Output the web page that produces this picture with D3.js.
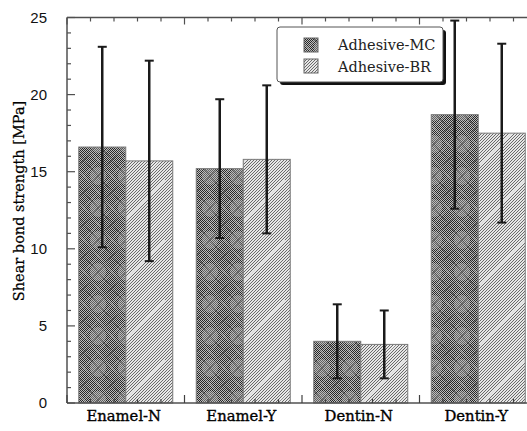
<!DOCTYPE html>
<html><head><meta charset="utf-8">
<script src="https://cdn.jsdelivr.net/npm/d3@7"></script>
<style>html,body{margin:0;padding:0;background:#fff;overflow:hidden}</style>
</head><body>
<svg id="chart" width="527" height="431"></svg>
<script>
const categories = ["Enamel-N", "Enamel-Y", "Dentin-N", "Dentin-Y"];
const series = ["Adhesive-MC", "Adhesive-BR"];
const meanMC = [16.6, 15.2, 4.0, 18.7];
const meanBR = [15.7, 15.8, 3.8, 17.5];
const lowMC  = [10.1, 10.7, 1.6, 12.6];
const highMC = [23.1, 19.7, 6.4, 24.8];
const lowBR  = [9.2, 11.0, 1.6, 11.7];
const highBR = [22.2, 20.6, 6.0, 23.3];
const yTicks = [0, 5, 10, 15, 20, 25];

const rows = [];
categories.forEach((c, i) => {
  rows.push({cat: c, s: series[0], v: meanMC[i], lo: lowMC[i], hi: highMC[i]});
  rows.push({cat: c, s: series[1], v: meanBR[i], lo: lowBR[i], hi: highBR[i]});
});

const svg = d3.select("#chart");
const L = 67, T = 17.5, B = 403, R = 537;

const x0 = d3.scaleBand().domain(categories).range([L, R]).paddingInner(0).paddingOuter(0);
const x1 = d3.scaleBand().domain(series).range([0, x0.bandwidth()]).paddingInner(0).paddingOuter(0.25);
const y = d3.scaleLinear().domain([0, 25]).range([B, T]);

// patterns
const defs = svg.append("defs");
const ck = defs.append("pattern").attr("id", "checker").attr("patternUnits", "userSpaceOnUse")
  .attr("width", 2).attr("height", 2);
ck.append("rect").attr("width", 2).attr("height", 2).attr("fill", "#bcbcbc");
ck.append("rect").attr("width", 1).attr("height", 1).attr("fill", "#262626");
ck.append("rect").attr("x", 1).attr("y", 1).attr("width", 1).attr("height", 1).attr("fill", "#262626");

const mc = defs.append("pattern").attr("id", "mc").attr("patternUnits", "userSpaceOnUse")
  .attr("width", 28).attr("height", 32).attr("x", 0).attr("y", 0);
mc.append("rect").attr("width", 28).attr("height", 32).attr("fill", "url(#checker)");
mc.append("ellipse").attr("cx", 14).attr("cy", 16).attr("rx", 8).attr("ry", 9)
  .attr("fill", "#b8b8b8").attr("opacity", 0.4);
mc.append("path").attr("d", "M0,0 L28,32 M28,0 L0,32")
  .attr("stroke", "#444").attr("stroke-width", 0.9).attr("opacity", 0.7);
mc.append("path").attr("d", "M0,16 L14,0 M14,32 L28,16 M0,16 L14,32 M14,0 L28,16")
  .attr("stroke", "#d0d0d0").attr("stroke-width", 0.8).attr("opacity", 0.45);

const br = defs.append("pattern").attr("id", "br").attr("patternUnits", "userSpaceOnUse")
  .attr("width", 3).attr("height", 3);
br.append("rect").attr("width", 3).attr("height", 3).attr("fill", "#e6e6e6");
br.append("path").attr("d", "M-1,1 L1,-1 M0,3 L3,0 M2,4 L4,2")
  .attr("stroke", "#6a6a6a").attr("stroke-width", 1);

const brOver = defs.append("pattern").attr("id", "brOver").attr("patternUnits", "userSpaceOnUse")
  .attr("width", 60).attr("height", 60);
brOver.append("rect").attr("width", 60).attr("height", 60).attr("fill", "url(#br)");
brOver.append("path").attr("d", "M0,45 L45,0 M20,60 L60,20")
  .attr("stroke", "#f4f4f4").attr("stroke-width", 1.2).attr("opacity", 0.8);

const fillFor = s => s === series[0] ? "url(#mc)" : "url(#brOver)";

// bars
svg.append("g").selectAll("rect").data(rows).join("rect")
  .attr("x", d => x0(d.cat) + x1(d.s))
  .attr("y", d => y(d.v))
  .attr("width", x1.bandwidth())
  .attr("height", d => y(0) - y(d.v))
  .attr("fill", d => fillFor(d.s))
  .attr("stroke", "#7a7a7a").attr("stroke-width", 1);

// frame
const frame = svg.append("g").attr("stroke", "#505050").attr("stroke-width", 1.5).attr("fill", "none");
frame.append("line").attr("x1", L).attr("x2", R).attr("y1", T).attr("y2", T);
frame.append("line").attr("x1", L).attr("x2", R).attr("y1", B).attr("y2", B);
frame.append("line").attr("x1", L).attr("x2", L).attr("y1", T).attr("y2", B);

// left axis ticks (inward)
const yMinor = d3.range(0, 26, 1);
svg.append("g").selectAll("line").data(yMinor).join("line")
  .attr("x1", L).attr("x2", d => L + (d % 5 === 0 ? 8 : 4))
  .attr("y1", d => y(d)).attr("y2", d => y(d))
  .attr("stroke", "#505050").attr("stroke-width", 1.2);

// top & bottom ticks
const step = x0.step();
const xt = d3.range(0, categories.length * 5 + 1).map(k => ({k, x: L + k * step / 5}));
svg.append("g").selectAll("line").data(xt).join("line")
  .attr("x1", d => d.x).attr("x2", d => d.x)
  .attr("y1", T).attr("y2", d => T + (d.k % 5 === 0 ? 7 : 4))
  .attr("stroke", "#505050").attr("stroke-width", 1.2);
svg.append("g").selectAll("line").data(xt).join("line")
  .attr("x1", d => d.x).attr("x2", d => d.x)
  .attr("y1", B).attr("y2", d => B - (d.k % 5 === 0 ? 8 : 4))
  .attr("stroke", "#404040").attr("stroke-width", 1.2);

// error bars
const eb = svg.append("g").attr("stroke", "#1a1a1a");
rows.forEach(d => {
  const cx = x0(d.cat) + x1(d.s) + x1.bandwidth() / 2;
  eb.append("line").attr("x1", cx).attr("x2", cx).attr("y1", y(d.hi)).attr("y2", y(d.lo)).attr("stroke-width", 2.5);
  eb.append("line").attr("x1", cx - 4.5).attr("x2", cx + 4.5).attr("y1", y(d.hi)).attr("y2", y(d.hi)).attr("stroke-width", 2);
  eb.append("line").attr("x1", cx - 4.5).attr("x2", cx + 4.5).attr("y1", y(d.lo)).attr("y2", y(d.lo)).attr("stroke-width", 2);
});

// y tick labels
svg.append("g").selectAll("text").data(yTicks).join("text")
  .attr("x", 47).attr("y", d => y(d)).attr("dy", "0.36em")
  .attr("text-anchor", "end")
  .attr("font-family", "Liberation Sans, Arial, sans-serif").attr("font-size", 15)
  .attr("fill", "#111").text(d => d);

// category labels
svg.append("g").selectAll("text").data(categories).join("text")
  .attr("x", d => x0(d) + x0.bandwidth() / 2 - 2).attr("y", 421)
  .attr("text-anchor", "middle")
  .attr("font-family", "DejaVu Serif, serif").attr("font-size", 14.8)
  .attr("fill", "#000").attr("stroke", "#000").attr("stroke-width", 0.35)
  .text(d => d);

// y title
svg.append("text")
  .attr("transform", "translate(24," + 201 + ") rotate(-90)")
  .attr("text-anchor", "middle")
  .attr("font-family", "DejaVu Serif, serif").attr("font-size", 14.5)
  .attr("fill", "#000").attr("stroke", "#000").attr("stroke-width", 0.25)
  .text("Shear bond strength [MPa]");

// legend
const lg = svg.append("g");
lg.append("rect").attr("x", 280).attr("y", 30).attr("width", 166).attr("height", 55)
  .attr("rx", 3).attr("fill", "#111");
lg.append("rect").attr("x", 277).attr("y", 27).attr("width", 166).attr("height", 55)
  .attr("rx", 3).attr("fill", "#fff").attr("stroke", "#555").attr("stroke-width", 1);
series.forEach((s, i) => {
  lg.append("rect").attr("x", 304).attr("y", 38 + i * 21).attr("width", 14).attr("height", 14)
    .attr("fill", fillFor(s)).attr("stroke", "#666").attr("stroke-width", 1);
  lg.append("text").attr("x", 338).attr("y", 50 + i * 22)
    .attr("font-family", "DejaVu Serif, serif").attr("font-size", 14.5)
    .attr("fill", "#222").text(s);
});
</script>
</body></html>
